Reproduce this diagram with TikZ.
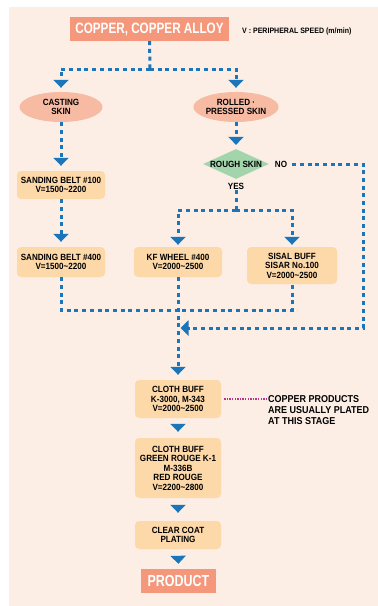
\documentclass[tikz,border=0pt]{standalone}
\usepackage{fontspec}
\setmainfont{Liberation Sans}[FakeStretch=0.9]
\newfontfamily\headfont{Liberation Sans}[FakeStretch=0.78]
\usetikzlibrary{arrows.meta,shapes.geometric}
\definecolor{paper}{HTML}{FCEEE5}
\definecolor{salmon}{HTML}{F4977A}
\definecolor{skinpink}{HTML}{F7BBA3}
\definecolor{stepfill}{HTML}{FDD9AA}
\definecolor{leaf}{HTML}{A3D5AC}
\definecolor{flowblue}{HTML}{1B75BB}
\definecolor{notepink}{HTML}{B7338C}
\begin{document}
\begin{tikzpicture}[x=1pt,y=-1pt,
	title/.style={fill=salmon, text=white, inner sep=0pt, font=\headfont\bfseries\fontsize{15}{16}\selectfont},
	skin/.style={ellipse, fill=skinpink, minimum width=83pt, minimum height=30pt, inner sep=0pt, align=center, font=\bfseries\fontsize{9}{9.5}\selectfont},
	stepbox/.style={rectangle, rounded corners=4pt, fill=stepfill, inner sep=0pt, minimum width=88pt, align=center, font=\bfseries\fontsize{9}{9.5}\selectfont},
	check/.style={diamond, fill=leaf, aspect=2.2, inner sep=0pt, font=\bfseries\fontsize{9}{9.5}\selectfont},
	label/.style={inner sep=1pt, font=\bfseries\fontsize{9}{9.5}\selectfont},
	line/.style={flowblue, line width=3pt, dash pattern=on 4pt off 3.7pt},
	flow/.style={line, -{Triangle[width=15pt,length=8pt]}, shorten >=5pt},
	tiponly/.style={flowblue, line width=3pt, dash pattern=on 0pt off 300pt, -{Triangle[width=15pt,length=8pt]}, shorten >=6pt}]
	
	\useasboundingbox (0,0) rectangle (378,606);
	\fill[paper] (9,7) rectangle (378,606);
	
	% top
	\node[title, minimum width=159pt, minimum height=24pt] (alloy) at (149.5,29) {COPPER, COPPER ALLOY};
	\node[anchor=west, inner sep=0pt, font=\bfseries\fontsize{7.8}{8}\selectfont] (speed) at (242,31) {V : PERIPHERAL SPEED (m/min)};
	\node[skin] (cast) at (61,107) {CASTING\\SKIN};
	\node[skin] (roll) at (236,107) {ROLLED ·\\PRESSED SKIN};
	\coordinate (fork) at (150,69);
	\draw[line] (alloy.south) -- (fork);
	\draw[flow, shorten >=4pt] (fork) -| (cast.north);
	\draw[flow, shorten >=4pt] (fork) -| (roll.north);
	
	% left column
	\node[stepbox, minimum height=28pt] (belt1) at (61,185) {SANDING BELT \#100\\V=1500\textasciitilde2200};
	\node[stepbox, minimum height=30pt] (belt4) at (61,262) {SANDING BELT \#400\\V=1500\textasciitilde2200};
	\draw[flow] (cast.south) -- (belt1.north);
	\draw[flow] (belt1.south) -- (belt4.north);
	
	% right column
	\node[check] (rough) at (236,164) {ROUGH SKIN};
	\node[label] (no) at (281,164) {NO};
	\node[label] (yes) at (236,186) {YES};
	\draw[flow, shorten >=4pt] (roll.south) -- (rough.north);
	\node[stepbox, minimum height=30pt] (wheel) at (178,262) {KF WHEEL \#400\\V=2000\textasciitilde2500};
	\node[stepbox, minimum width=90pt, minimum height=37pt] (sisal) at (292,265.5) {SISAL BUFF\\SISAR No.100\\V=2000\textasciitilde2500};
	\coordinate (yesfork) at (236,210);
	\draw[line] (yes.south) -- (yesfork);
	\draw[flow, shorten >=2pt] (yesfork) -| (wheel.north);
	\draw[flow, shorten >=2pt] (yesfork) -| (sisal.north);
	
	% joins
	\coordinate (join) at (292,310);
	\coordinate (nocorner) at (363,164);
	\coordinate (noreturn) at (363,328);
	\coordinate (nojoin) at (178,328);
	\draw[line] (belt4.south) |- (join) -- (sisal.south);
	\draw[flow, shorten >=2.5pt] (no.east) ++(4,0) -- (nocorner) -- (noreturn) -- (nojoin);
	
	% bottom
	\node[stepbox, minimum width=86pt, minimum height=38pt] (cloth1) at (178,399) {CLOTH BUFF\\K-3000, M-343\\V=2000\textasciitilde2500};
	\node[stepbox, minimum width=86pt, minimum height=60pt] (cloth2) at (178,468) {CLOTH BUFF\\GREEN ROUGE K-1\\M-336B\\RED ROUGE\\V=2200\textasciitilde2800};
	\node[stepbox, minimum width=86pt, minimum height=28pt] (coat) at (178,535) {CLEAR COAT\\PLATING};
	\node[title, minimum width=75pt, minimum height=24pt, font=\headfont\bfseries\fontsize{16}{17}\selectfont] (product) at (178.5,581) {PRODUCT};
	\draw[flow] (wheel.south) -- (cloth1.north);
	\draw[tiponly] (cloth1.south) -- (cloth2.north);
	\draw[tiponly, shorten >=8pt] (cloth2.south) -- (coat.north);
	\draw[tiponly, shorten >=5pt] (coat.south) -- (product.north);
	
	\node[anchor=west, align=left, inner sep=0pt, font=\bfseries\fontsize{10}{11}\selectfont] (note) at (268,410) {COPPER PRODUCTS\\ARE USUALLY PLATED\\AT THIS STAGE};
	\draw[notepink, line width=1.3pt, dash pattern=on 1.3pt off 1.3pt, shorten <=3pt, shorten >=2pt] (cloth1.east) -- (cloth1.east -| note.west);
\end{tikzpicture}
\end{document}
